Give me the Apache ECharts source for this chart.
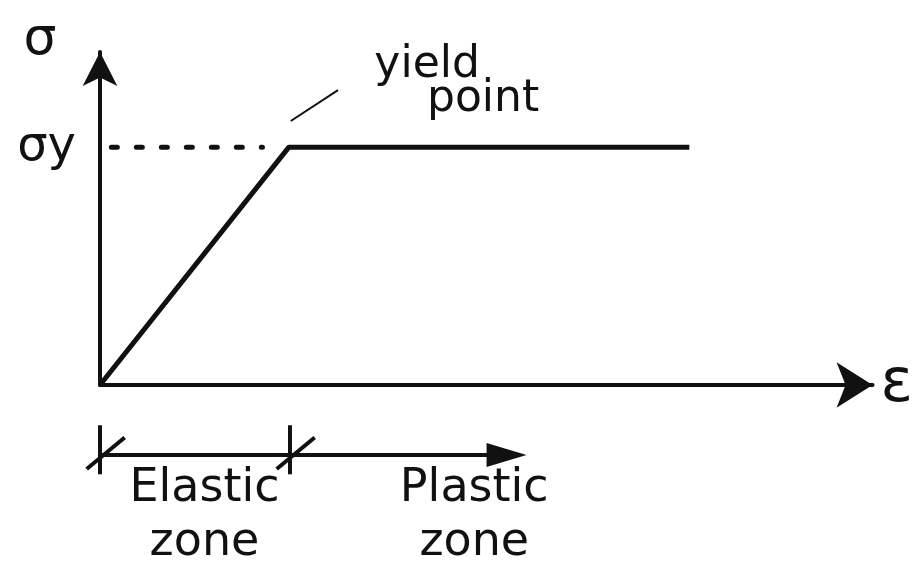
<!DOCTYPE html>
<html>
<head>
    <meta charset='utf-8'>
    <script src="https://cdn.jsdelivr.net/npm/echarts@6/dist/echarts.min.js"></script>
</head>
<body>
<style>
    html, body, #main {
        width: 100%;
        height: 100%;
        margin: 0;
        padding: 0;
        background: #fff;
    }
</style>
<div id="main"></div>
<script>
    // stress-strain sketch, strain in units of yield strain, stress in units of sigma_y
    var curveStrain = [0, 1, 3.12];
    var curveStress = [0, 1, 1];
    var yieldStress = 1;
    var dottedStrain = [0.06, 0.86];
    var leaderStrain = [1.01, 1.26];
    var leaderStress = [1.11, 1.24];
    var yieldLabelPos = [1.88, 1.27];

    // zone bar below the axis
    var zoneMarks = [0, 1];
    var zoneEnd = 2.14;
    var zoneNames = ['Elastic\nzone', 'Plastic\nzone'];
    var zoneLabelStrain = [0.55, 1.97];

    var font = 'DejaVu Sans';
    var ink = '#111';

    var chart = echarts.init(document.getElementById('main'));

    function pairs(xs, ys) {
        return xs.map(function (x, i) { return [x, ys[i]]; });
    }

    var series = [];

    series.push({
        type: 'line',
        xAxisIndex: 0, yAxisIndex: 0,
        data: pairs(curveStrain, curveStress),
        showSymbol: false,
        lineStyle: {color: ink, width: 5, join: 'round'},
        z: 5
    });
    series.push({
        type: 'line',
        xAxisIndex: 0, yAxisIndex: 0,
        data: pairs(dottedStrain, [yieldStress, yieldStress]),
        showSymbol: false,
        lineStyle: {color: ink, width: 5, type: [6, 19], cap: 'round'}
    });
    series.push({
        type: 'line',
        xAxisIndex: 0, yAxisIndex: 0,
        data: pairs(leaderStrain, leaderStress),
        showSymbol: false,
        lineStyle: {color: ink, width: 2}
    });
    series.push({
        type: 'scatter',
        xAxisIndex: 0, yAxisIndex: 0,
        clip: false,
        symbolSize: 0,
        itemStyle: {opacity: 1},
        data: [yieldLabelPos],
        label: {
            show: true,
            position: 'inside',
            formatter: '{a|yield}\n{b|point}',
            color: ink,
            fontFamily: font,
            rich: {
                a: {fontSize: 44, lineHeight: 34, fontFamily: font, color: ink, padding: [0, 56, 0, 0]},
                b: {fontSize: 44, lineHeight: 34, fontFamily: font, color: ink, padding: [0, 0, 0, 56]}
            }
        }
    });

    // zone bar
    series.push({
        type: 'line',
        xAxisIndex: 1, yAxisIndex: 1,
        data: [[zoneMarks[0], 0], {value: [zoneEnd, 0], symbol: 'triangle', symbolRotate: -90, symbolSize: [24, 40], symbolKeepAspect: false}],
        showSymbol: true,
        symbol: 'none',
        itemStyle: {color: ink},
        lineStyle: {color: ink, width: 4}
    });
    zoneMarks.forEach(function (m) {
        series.push({
            type: 'line',
            xAxisIndex: 1, yAxisIndex: 1,
            data: [[m, 0.85], [m, -0.55]],
            showSymbol: false,
            lineStyle: {color: ink, width: 4}
        });
        series.push({
            type: 'line',
            xAxisIndex: 1, yAxisIndex: 1,
            data: [[m - 0.07, -0.4], [m + 0.13, 0.5]],
            showSymbol: false,
            lineStyle: {color: ink, width: 4}
        });
    });
    series.push({
        type: 'scatter',
        xAxisIndex: 1, yAxisIndex: 1,
        clip: false,
        symbolSize: 0,
        itemStyle: {opacity: 1},
        data: zoneLabelStrain.map(function (x) { return [x, -1.75]; }),
        label: {
            show: true,
            position: 'inside',
            formatter: function (p) { return zoneNames[p.dataIndex]; },
            fontSize: 46,
            lineHeight: 54,
            fontFamily: font,
            color: ink
        }
    });

    var hidden = {show: false};

    chart.setOption({
        backgroundColor: '#fff',
        animation: false,
        grid: [
            {left: 100, right: 39, top: 52, bottom: 180},
            // same scale as the main grid, but starting at -0.2 so the first tick mark fits
            {left: 62, right: 39, top: 420, bottom: 0}
        ],
        xAxis: [{
            type: 'value',
            gridIndex: 0,
            min: 0, max: 4.09,
            name: 'ε',
            nameLocation: 'end',
            nameGap: 8,
            nameTextStyle: {fontSize: 60, fontFamily: font, color: ink, align: 'left', verticalAlign: 'middle', padding: [52, 0, 0, 0]},
            axisLine: {lineStyle: {color: ink, width: 4}, symbol: ['none', 'arrow'], symbolSize: [34, 36]},
            axisTick: hidden, axisLabel: hidden, splitLine: hidden
        }, {
            type: 'value',
            gridIndex: 1,
            min: -0.2, max: 4.09,
            axisLine: hidden, axisTick: hidden, axisLabel: hidden, splitLine: hidden
        }],
        yAxis: [{
            type: 'value',
            gridIndex: 0,
            min: 0, max: 1.4,
            interval: 1,
            name: 'σ',
            nameLocation: 'end',
            nameGap: 12,
            nameTextStyle: {fontSize: 52, fontFamily: font, color: ink, align: 'center', verticalAlign: 'middle', padding: [0, 120, 0, 0]},
            axisLine: {lineStyle: {color: ink, width: 4}, symbol: ['none', 'arrow'], symbolSize: [26, 34]},
            axisTick: hidden,
            axisLabel: {
                show: true,
                margin: 24,
                fontSize: 48,
                fontFamily: font,
                color: ink,
                formatter: function (v) { return v === yieldStress ? 'σy' : ''; }
            },
            splitLine: hidden
        }, {
            type: 'value',
            gridIndex: 1,
            min: -3.14, max: 1,
            axisLine: hidden, axisTick: hidden, axisLabel: hidden, splitLine: hidden
        }],
        series: series
    });
</script>
</body>
</html>
